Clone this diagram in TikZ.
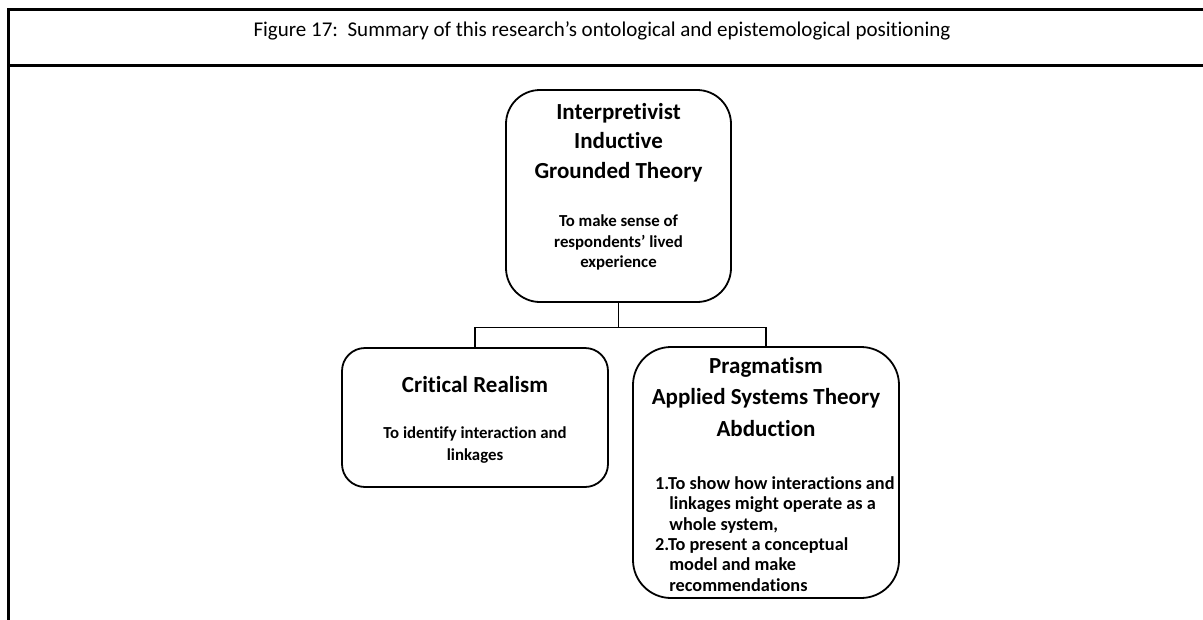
\documentclass[tikz,border=0pt]{standalone}
\usepackage{fontspec}
\setmainfont{Carlito}[Ligatures={NoCommon}]
\usetikzlibrary{calc}

\tikzset{
  frameline/.style={line width=2.6pt, line cap=rect},
  boxshape/.style={draw, line width=1.8pt, rectangle, inner sep=0pt},
  link/.style={line width=1.8pt},
  plain/.style={inner sep=0pt, align=center},
  headtext/.style={plain, font=\bfseries\fontsize{23}{29.5}\selectfont},
  subtext/.style={plain, font=\bfseries\fontsize{16.8}{20.5}\selectfont},
}

\begin{document}
\begin{tikzpicture}[x=1pt,y=-1pt]
\useasboundingbox (0,0) rectangle (1203,619);

% table frame with its caption row
\draw[frameline] (1203,9.3) -- (8.3,9.3) -- (8.3,619);
\draw[frameline] (8.3,65.5) -- (1203,65.5);
\node[plain, anchor=base, font=\fontsize{21}{25}\selectfont] (caption) at (602,36)
  {Figure 17:\ \ Summary of this research’s ontological and epistemological positioning};

% the three rounded boxes
\node[boxshape, rounded corners=34pt, minimum width=225pt, minimum height=212pt] (top) at (618.5,196) {};
\node[boxshape, rounded corners=23pt, minimum width=266pt, minimum height=139pt] (crit) at (475,417.5) {};
\node[boxshape, rounded corners=38pt, minimum width=266pt, minimum height=251pt] (prag) at (766,472.5) {};

% texts of the top box
\node[headtext] (tophead) at (618.5,142.5) {Interpretivist\\Inductive\\Grounded Theory};
\node[subtext] (topsub) at (618.5,242.5) {To make sense of\\respondents’ lived\\experience};

% texts of the left box
\node[headtext] (crithead) at (475,385) {Critical Realism};
\node[subtext, font=\bfseries\fontsize{16.8}{22}\selectfont] (critsub) at (475,445) {To identify interaction and\\linkages};

% texts of the right box
\node[headtext, font=\bfseries\fontsize{23}{31.5}\selectfont] (praghead) at (766,397) {Pragmatism\\Applied Systems Theory\\Abduction};
\node[plain, align=left, anchor=west, font=\bfseries\fontsize{18.3}{20.4}\selectfont] (praglist) at (655,534)
  {1.To show how interactions and\\
   \hphantom{1.}linkages might operate as a\\
   \hphantom{1.}whole system,\\
   2.To present a conceptual\\
   \hphantom{2.}model and make\\
   \hphantom{2.}recommendations};

% connectors
\draw[link] (top.south) -- ++(0,24.5) coordinate (join);
\draw[link] (crit.north) |- (join) -| (prag.north);
\end{tikzpicture}
\end{document}
